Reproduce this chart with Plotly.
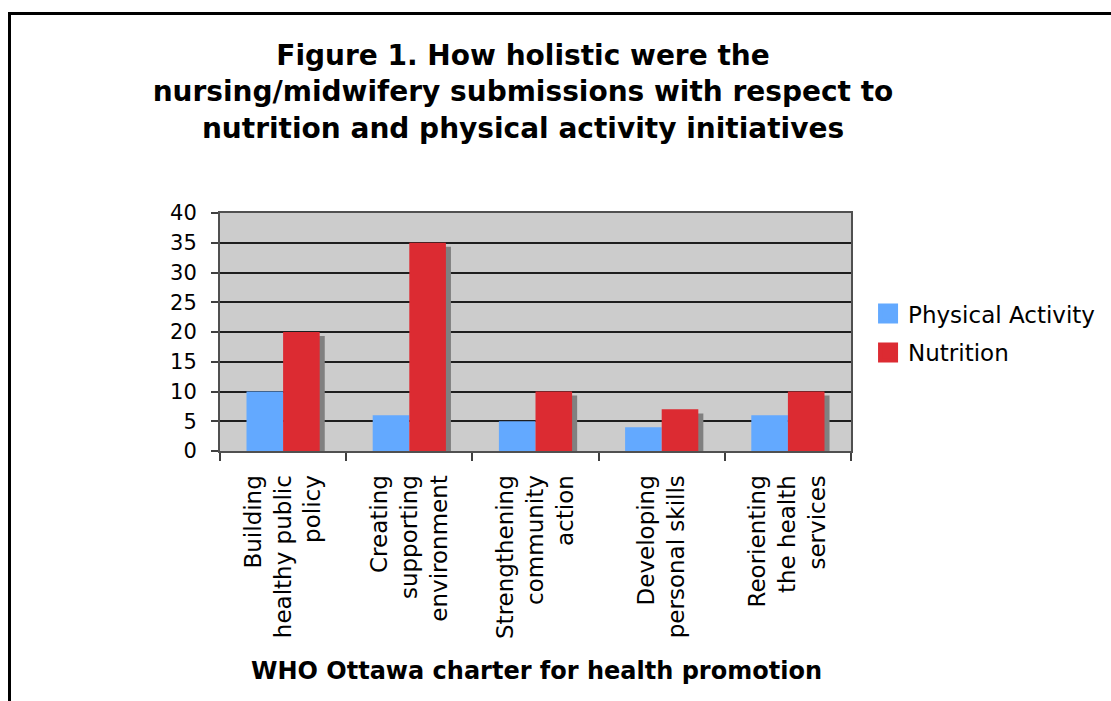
import plotly.graph_objects as go

# Ottawa charter action areas (tick labels broken over lines)
categories = [
    "Building<br>healthy public<br>policy",
    "Creating<br>supporting<br>environment",
    "Strengthening<br>community<br>action",
    "Developing<br>personal skills",
    "Reorienting<br>the health<br>services",
]
physical_activity = [10, 6, 5, 4, 6]
nutrition = [20, 35, 10, 7, 10]

FONT = "DejaVu Sans"
BLUE = "#63A9FF"
RED = "#DC2B32"
SHADOW = "#808080"

# drop shadow behind the nutrition bars: shifted right and a little lower
shadow_drop = 0.68
nutrition_shadow = [v - shadow_drop for v in nutrition]

fig = go.Figure()
fig.add_trace(go.Bar(
    x=categories, y=nutrition_shadow, width=0.29, offset=0.04,
    marker=dict(color=SHADOW, line=dict(width=0)),
    showlegend=False, hoverinfo="skip",
))
fig.add_trace(go.Bar(
    x=categories, y=physical_activity, width=0.29, offset=-0.29,
    marker=dict(color=BLUE, line=dict(width=0)),
    name="Physical Activity", showlegend=False,
))
fig.add_trace(go.Bar(
    x=categories, y=nutrition, width=0.29, offset=0.0,
    marker=dict(color=RED, line=dict(width=0)),
    name="Nutrition", showlegend=False,
))

# legend entries with larger square swatches
for name, color in [("Physical Activity", BLUE), ("Nutrition", RED)]:
    fig.add_trace(go.Scatter(
        x=[None], y=[None], mode="markers", name=name, legendgroup=name,
        marker=dict(symbol="square", size=16, color=color,
                    line=dict(width=4, color=color)),
    ))

fig.update_layout(
    width=1111, height=701,
    margin=dict(l=220, r=259, t=213, b=250),
    paper_bgcolor="white",
    plot_bgcolor="#CCCCCC",
    barmode="overlay",
    font=dict(family=FONT, color="black"),
    title=dict(
        text="<b>Figure 1. How holistic were the<br>nursing/midwifery submissions with respect to<br>nutrition and physical activity initiatives</b>",
        font=dict(size=28, family=FONT, color="black"),
        x=523 / 1111, xanchor="center",
        y=1 - 65 / 701, yanchor="top",
    ),
    legend=dict(
        x=1.0254, xanchor="left", y=0.6676, yanchor="top",
        font=dict(size=23, family=FONT, color="black"),
        itemsizing="trace", tracegroupgap=6,
        bgcolor="rgba(0,0,0,0)",
    ),
    xaxis=dict(
        type="category", range=[-0.5, 4.5],
        tickson="boundaries", ticks="outside", ticklen=8, tickwidth=1.5,
        tickcolor="#404040", tickangle=-90,
        tickfont=dict(size=23, family=FONT, color="black"),
        ticklabelstandoff=13,
        showgrid=False, showline=True, linecolor="#505050", linewidth=2,
        mirror=True, zeroline=False,
    ),
    yaxis=dict(
        range=[0, 40], dtick=5, ticks="outside", ticklen=7, tickwidth=1.5,
        tickcolor="#404040",
        tickfont=dict(size=21, family=FONT, color="black"),
        ticklabelstandoff=10,
        showgrid=True, gridcolor="#1e1e1e", gridwidth=1.5,
        showline=True, linecolor="#505050", linewidth=2, mirror=True,
        zeroline=False,
    ),
    annotations=[dict(
        text="<b>WHO Ottawa charter for health promotion</b>",
        xref="paper", yref="paper", x=(537 - 220) / 632, y=-(655 - 451) / 238,
        xanchor="center", yanchor="top", showarrow=False,
        font=dict(size=24, family=FONT, color="black"),
    )],
    shapes=[dict(
        type="rect", xref="paper", yref="paper",
        xsizemode="pixel", ysizemode="pixel", xanchor=0, yanchor=0,
        x0=-210.5, x1=1000, y0=-300, y1=437.5,
        line=dict(color="black", width=3), fillcolor="rgba(0,0,0,0)",
        layer="above",
    )],
)

fig.write_html("out.html")
